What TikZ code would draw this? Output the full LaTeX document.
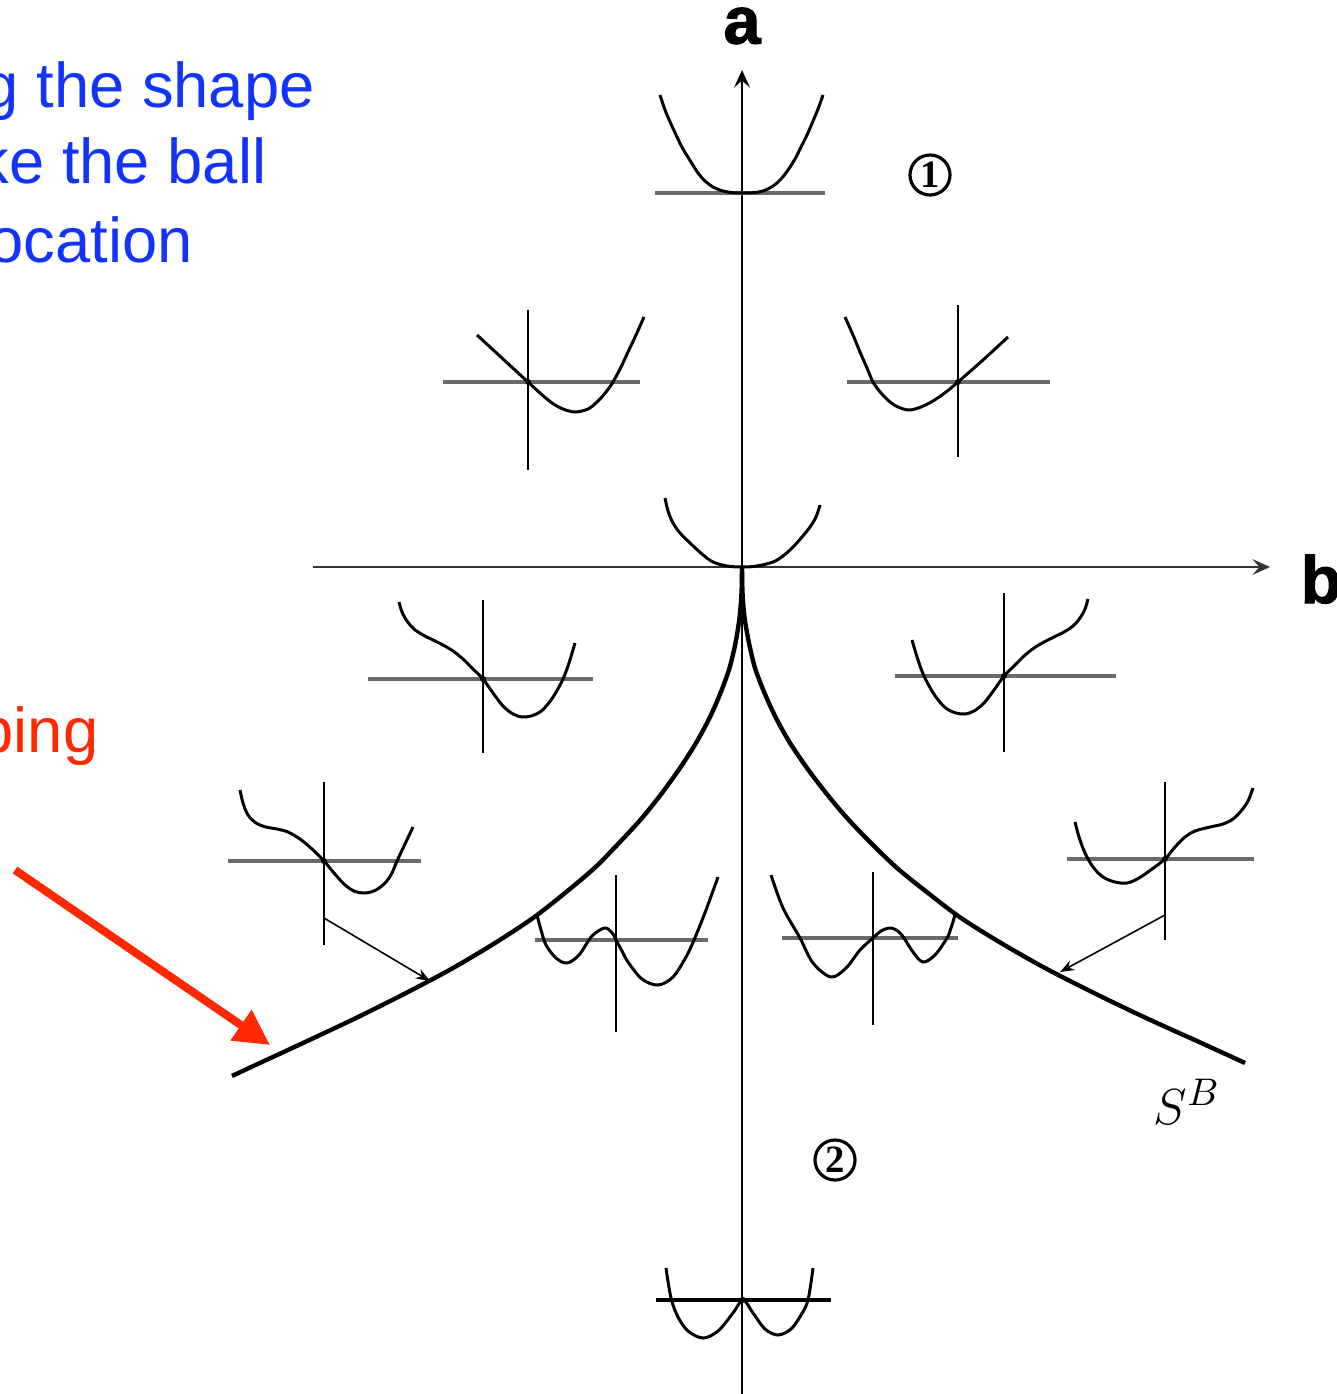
\documentclass[tikz,border=0pt]{standalone}
\usepackage{fontspec}
\setmainfont{Liberation Sans}
\newfontfamily\axisfont{Liberation Sans Bold}[FakeBold=1.5]
\newfontfamily\markfont{Liberation Serif}
\usepackage{tikz}
\usetikzlibrary{arrows.meta, positioning}
\definecolor{noteblue}{RGB}{18,52,250}
\definecolor{notered}{RGB}{255,40,0}
\definecolor{scangray}{RGB}{105,105,105}
\tikzset{
  mainaxis/.style={line width=0.65pt, -{Stealth[length=5pt, width=4.5pt, inset=2pt]}},
  fold/.style={line width=1.25pt, smooth, tension=0.5},
  potential/.style={line width=0.85pt, smooth, tension=0.55},
  hline/.style={line width=0.95pt, draw=scangray},
  vline/.style={line width=0.55pt},
  ball/.style={circle, fill=black, inner sep=0pt, minimum size=0.06cm},
  jump/.style={line width=0.45pt, -{Stealth[length=4pt, width=3pt]}},
  pointer/.style={line width=2.3pt, draw=notered, -{Triangle[length=10pt, width=10pt]}},
  note/.style={font=\fontsize{18}{21.6}\selectfont, text=noteblue, inner sep=0pt, anchor=base west},
  tag/.style={font=\fontsize{18}{21.6}\selectfont, text=notered, inner sep=0pt},
  axislabel/.style={font=\axisfont\fontsize{19}{22}\selectfont, inner sep=0pt},
  regionmark/.style={circle, draw, line width=0.9pt, inner sep=0pt, minimum size=0.4cm, font=\markfont\bfseries\fontsize{11}{12}\selectfont},
}

\begin{document}
\begin{tikzpicture}[x=0.01cm, y=-0.01cm]
  \useasboundingbox (0,0) rectangle (1337,1394);
  \clip (0,0) rectangle (1337,1394);

  % slide annotations
  \node[note] (note1) at (-17,108) {g the shape};
  \node[note] (note2) at (-23,184) {ke the ball};
  \node[note] (note3) at (-12,262) {ocation};
  \node[tag, anchor=base west] (tag) at (-22,752) {ping};
  \coordinate (tagtail) at (15,870);
  \coordinate (tagtip) at (270,1045);
  \draw[pointer] (tagtail) -- (tagtip);

  % control plane
  \coordinate (o) at (742,567);
  \coordinate (atop) at (742,70);
  \coordinate (abot) at (742,1394);
  \coordinate (bleft) at (313,567);
  \coordinate (bright) at (1270,567);
  \draw[mainaxis] (abot) -- (atop);
  \draw[mainaxis, draw=black!80] (bleft) -- (bright);
  \node[axislabel, above=0.25cm of atop] (alabel) {a};
  \node[axislabel, anchor=base west] (blabel) at (1300,603) {b};

  % bifurcation set
  \draw[fold] plot coordinates {(742,568) (741.5,593) (739.5,618) (735.5,643) (729.5,668) (720.5,693) (709.5,718) (696,743) (680,768) (662,793) (642,818) (619,843) (594.5,868) (565,893) (533,918) (495,943) (453,968) (406,993) (356,1018) (303,1043) (249,1068) (232,1076)};
  \draw[fold] plot coordinates {(742,568) (742.5,593) (744.6,618) (749,643) (755,668) (764.5,693) (776,718) (790,743) (807,768) (826,793) (847,818) (871,843) (897,868) (928,893) (961,918) (1001,943) (1045,968) (1094,993) (1146,1018) (1197,1041) (1245,1063)};
  \node[font=\fontsize{15}{18}\selectfont] (sb) at (1187,1102) {$S^B$};
  \node[regionmark] (r1) at (930,175) {1};
  \node[regionmark] (r2) at (835,1160) {2};

  % potentials, top to bottom
  \begin{scope}[shift={(743,193)}]
    \draw[hline] (-88,0) -- (82,0);
    \draw[potential] plot coordinates {(-83,-98) (-78,-83) (-72,-69) (-66,-56) (-60,-44) (-52,-31) (-45,-20) (-38,-12) (-30,-6) (-20,-2) (-10,-0.3) (0,0) (10,-0.3) (20,-2) (30,-7) (38,-14) (45,-23) (52,-34) (58,-46) (64,-58) (70,-72) (75,-84) (80,-98)};
  \end{scope}
  \begin{scope}[shift={(528,382)}]
    \draw[hline] (-85,0) -- (112,0);
    \draw[vline] (0,-72) -- (0,88);
    \draw[potential] plot coordinates {(-51,-47) (-25,-23) (0,0) (12,11) (24,21) (35,27) (47,30) (60,27) (70,19) (78,10) (85,0) (93,-15) (100,-30) (108,-47) (116,-65)};
    \node[ball] (ball1) at (0,0) {};
  \end{scope}
  \begin{scope}[shift={(958,382)}]
    \draw[hline] (-111,0) -- (92,0);
    \draw[vline] (0,-77) -- (0,75);
    \draw[potential] plot coordinates {(-113,-65) (-105,-47) (-98,-30) (-91,-14) (-85,0) (-77,11) (-68,20) (-60,25) (-49,28) (-37,25) (-25,19) (-12,10) (0,0) (25,-22) (50,-45)};
    \node[ball] (ball2) at (0,0) {};
  \end{scope}
  \begin{scope}[shift={(742,567)}]
    \draw[potential] plot coordinates {(-77,-69) (-74,-56) (-69,-44) (-62,-34) (-52,-24) (-40,-13) (-29,-5) (-15,-1) (0,0) (15,-1) (31,-5) (41,-11) (51,-20) (60,-30) (68,-40) (74,-50) (78,-62)};
  \end{scope}
  \begin{scope}[shift={(483,679)}]
    \draw[hline] (-115,0) -- (110,0);
    \draw[vline] (0,-79) -- (0,74);
    \draw[potential] plot coordinates {(-84,-77) (-81,-67) (-76,-58) (-69,-50) (-60,-44) (-50,-39) (-40,-34) (-30,-28) (-20,-20) (-10,-10) (0,0) (10,14) (20,27) (30,35) (39,38) (48,37) (57,33) (65,25) (72,15) (80,0) (86,-16) (92,-36)};
    \node[ball] (ball3) at (0,0) {};
  \end{scope}
  \begin{scope}[shift={(1004,676)}]
    \draw[hline] (-109,0) -- (112,0);
    \draw[vline] (0,-83) -- (0,76);
    \draw[potential] plot coordinates {(-92,-36) (-86,-16) (-80,0) (-72,15) (-65,25) (-57,33) (-48,37) (-39,38) (-30,35) (-20,27) (-10,14) (0,0) (10,-10) (20,-20) (30,-28) (40,-34) (50,-39) (60,-44) (69,-50) (76,-58) (81,-67) (84,-77)};
    \node[ball] (ball4) at (0,0) {};
  \end{scope}
  \begin{scope}[shift={(324,861)}]
    \draw[hline] (-96,0) -- (97,0);
    \draw[vline] (0,-79) -- (0,84);
    \draw[potential] plot coordinates {(-84,-71) (-81,-58) (-76,-46) (-68,-38) (-58,-34) (-47,-32) (-36,-29) (-24,-22) (-12,-12) (0,0) (10,12) (20,23) (30,30) (41,32) (52,29) (62,21) (68,12) (73,0) (81,-17) (89,-34)};
    \node[ball] (ball5) at (0,0) {};
  \end{scope}
  \begin{scope}[shift={(1165,859)}]
    \draw[hline] (-98,0) -- (89,0);
    \draw[vline] (0,-77) -- (0,81);
    \draw[potential] plot coordinates {(-90,-37) (-86,-22) (-80,-6) (-72,8) (-62,18) (-50,23) (-38,24) (-26,19) (-13,10) (0,0) (10,-12) (20,-22) (30,-28) (45,-32) (58,-35) (68,-40) (76,-48) (83,-58) (88,-71)};
    \node[ball] (ball6) at (0,0) {};
  \end{scope}
  \begin{scope}[shift={(616,940)}]
    \draw[hline] (-81,0) -- (92,0);
    \draw[vline] (0,-65) -- (0,92);
    \draw[potential] plot coordinates {(-79,-25) (-75,-10) (-70,5) (-60,18) (-49,23) (-37,15) (-24,-4) (-11,-12) (-3,-6) (0,0) (6,11) (12,22) (26,39) (42,45) (57,37) (70,17) (78,0) (90,-30) (102,-63)};
  \end{scope}
  \begin{scope}[shift={(873,938)}]
    \draw[hline] (-91,0) -- (85,0);
    \draw[vline] (0,-66) -- (0,87);
    \draw[potential] plot coordinates {(-102,-63) (-90,-30) (-73,0) (-60,25) (-42,39) (-27,30) (-13,12) (0,0) (8,-7) (18,-10) (28,-4) (40,14) (50,24) (62,17) (74,0) (78,-10) (82,-23)};
  \end{scope}
  \begin{scope}[shift={(743,1300)}]
    \draw[hline, draw=black] (-87,0) -- (88,0);
    \draw[potential] plot coordinates {(-77,-32) (-72,-2) (-65,17) (-55,31) (-40,38) (-25,31) (-10,13) (0,0) (10,13) (22,29) (35,35) (48,29) (58,15) (65,0) (70,-32)};
    \node[ball] (ball7) at (0,0) {};
  \end{scope}

  % jumps onto the fold
  \coordinate (jumpL) at (324,918);
  \coordinate (landL) at (430,981);
  \coordinate (jumpR) at (1165,915);
  \coordinate (landR) at (1060,972);
  \draw[jump] (jumpL) -- (landL);
  \draw[jump] (jumpR) -- (landR);
\end{tikzpicture}
\end{document}
